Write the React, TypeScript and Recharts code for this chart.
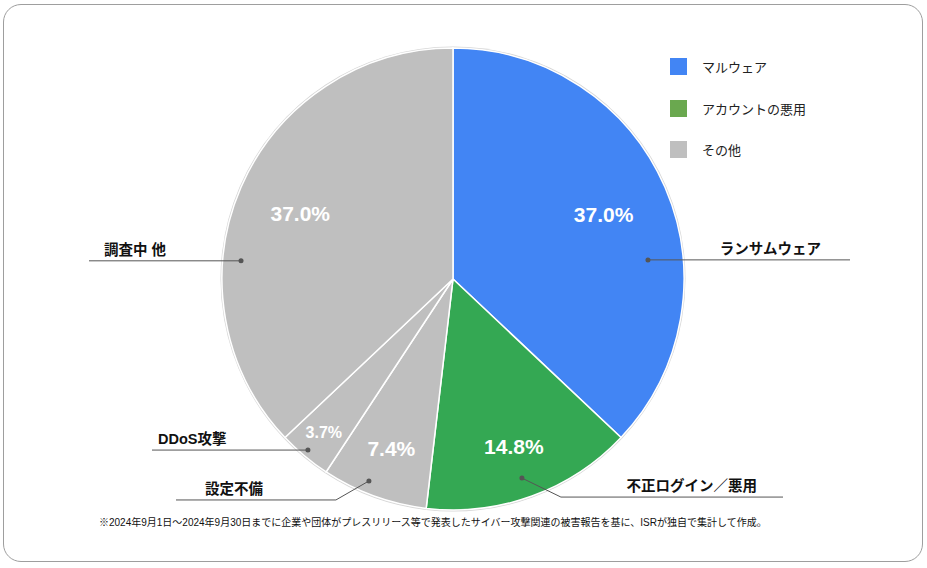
import { PieChart, Pie, Cell, Legend } from "recharts";

// slice data (counts out of 27 incidents)
const CATEGORIES = ["ランサムウェア", "不正ログイン／悪用", "設定不備", "DDoS攻撃", "調査中 他"];
const VALUES = [10, 4, 2, 1, 10];
const SLICE_COLORS = ["#4285F4", "#34A853", "#BFBFBF", "#BFBFBF", "#BFBFBF"];

// legend groups
const LEGEND_LABELS = ["マルウェア", "アカウントの悪用", "その他"];
const LEGEND_COLORS = ["#4285F4", "#6AA84F", "#BFBFBF"];

const NOTE =
  "※2024年9月1日～2024年9月30日までに企業や団体がプレスリリース等で発表したサイバー攻撃関連の被害報告を基に、ISRが独自で集計して作成。";

const FONT = "'Liberation Sans', Arial, 'Noto Sans CJK JP', sans-serif";
const RAD = Math.PI / 180;

// callout layout, relative to pie centre / radius
const CALLOUTS = [
  { angle: 84.4, r: 0.848, bend: null, endX: 397, textX: 368, anchor: "end", pctR: 0.71, pctSize: 21 },
  { angle: 160.9, r: 0.912, bend: [39, 19], endX: 330, textX: 304, anchor: "end", pctR: 0.77, pctSize: 21 },
  { angle: 202.6, r: 0.947, bend: [-33, 19], endX: -277, textX: -248, anchor: "start", pctR: 0.78, pctSize: 21 },
  { angle: 220.3, r: 0.971, bend: null, endX: -301, textX: -295, anchor: "start", pctR: 0.87, pctSize: 16 },
  { angle: 274.9, r: 0.921, bend: null, endX: -364, textX: -349, anchor: "start", pctR: 0.72, pctSize: 21 },
];

const chartData = CATEGORIES.map((name, i) => ({ name, value: VALUES[i] }));

function renderLabel(props: any) {
  const { cx, cy, midAngle, outerRadius, percent, index } = props;
  const c = CALLOUTS[index];
  const px = cx + outerRadius * c.pctR * Math.cos(-midAngle * RAD);
  const py = cy + outerRadius * c.pctR * Math.sin(-midAngle * RAD);
  const dx = cx + outerRadius * c.r * Math.sin(c.angle * RAD);
  const dy = cy - outerRadius * c.r * Math.cos(c.angle * RAD);
  const bx = c.bend ? dx + c.bend[0] : dx;
  const by = c.bend ? dy + c.bend[1] : dy;
  const ex = cx + c.endX;
  return (
    <g key={`lbl-${index}`}>
      <text
        x={px}
        y={py}
        fill="#fff"
        fontSize={c.pctSize}
        fontWeight="bold"
        fontFamily={FONT}
        textAnchor="middle"
        dominantBaseline="central"
      >
        {`${(percent * 100).toFixed(1)}%`}
      </text>
      <polyline
        points={`${dx},${dy} ${bx},${by} ${ex},${by}`}
        fill="none"
        stroke="#555"
        strokeWidth={1}
      />
      <circle cx={dx} cy={dy} r={2.5} fill="#555" />
      <text
        x={cx + c.textX}
        y={by - 11}
        fill="#111"
        fontSize={14.5}
        fontWeight="bold"
        fontFamily={FONT}
        textAnchor={c.anchor}
        dominantBaseline="central"
      >
        {CATEGORIES[index]}
      </text>
    </g>
  );
}

function LegendBox() {
  return (
    <div style={{ fontFamily: FONT, fontSize: 13, color: "#222" }}>
      {LEGEND_LABELS.map((label, i) => (
        <div key={label} style={{ display: "flex", alignItems: "center", height: 17, marginBottom: 24.5 }}>
          <span style={{ width: 17, height: 17, background: LEGEND_COLORS[i], marginRight: 15 }} />
          <span>{label}</span>
        </div>
      ))}
    </div>
  );
}

export default function App() {
  return (
    <div style={{ position: "absolute", left: 0, top: 0, width: 927, height: 568, background: "#fff" }}>
      <div
        style={{
          position: "absolute",
          left: 3,
          top: 4,
          width: 920,
          height: 558,
          border: "1.5px solid #9e9e9e",
          borderRadius: 18,
          boxSizing: "border-box",
        }}
      />
      <PieChart width={927} height={568} margin={{ top: 0, right: 0, bottom: 0, left: 0 }} style={{ position: "absolute", left: 0, top: 0 }}>
        <Pie
          data={chartData}
          dataKey="value"
          cx={453}
          cy={279}
          outerRadius={232.5}
          startAngle={90}
          endAngle={-270}
          fill="#d6d6d6"
          stroke="none"
          isAnimationActive={false}
          label={false}
          labelLine={false}
        />
        <Pie
          data={chartData}
          dataKey="value"
          cx={453}
          cy={279}
          outerRadius={231}
          startAngle={90}
          endAngle={-270}
          stroke="#fff"
          strokeWidth={1.5}
          isAnimationActive={false}
          label={renderLabel}
          labelLine={false}
        >
          {chartData.map((entry, index) => (
            <Cell key={`cell-${index}`} fill={SLICE_COLORS[index]} />
          ))}
        </Pie>
        <Legend
          layout="vertical"
          align="right"
          verticalAlign="top"
          content={<LegendBox />}
          wrapperStyle={{ left: 670, top: 58, right: "auto", width: 200 }}
        />
      </PieChart>
      <div
        style={{
          position: "absolute",
          left: 99,
          top: 514,
          fontFamily: FONT,
          fontSize: 10,
          color: "#111",
          whiteSpace: "nowrap",
        }}
      >
        {NOTE}
      </div>
    </div>
  );
}
